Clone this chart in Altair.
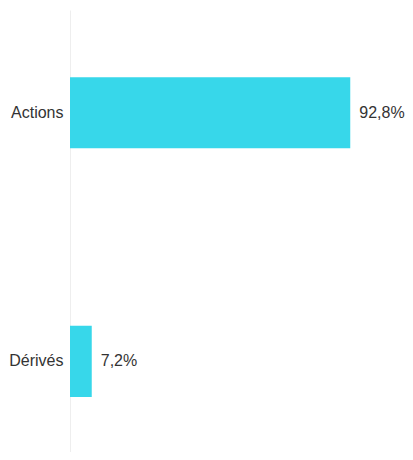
import altair as alt
import pandas as pd

categories = ["Actions", "Dérivés"]
values = [92.8, 7.2]

df = pd.DataFrame({"cat": categories, "val": values})
df["label"] = [f"{v:.1f}".replace(".", ",") + "%" for v in values]

base = alt.Chart(df).encode(
    y=alt.Y("cat:N", sort=categories, title=None,
            scale=alt.Scale(paddingInner=0.714, paddingOuter=0.246, align=0.55),
            axis=alt.Axis(domainColor="#eeeeee", domainWidth=1, ticks=False, grid=False,
                          labelFontSize=16, labelColor="#333333", labelPadding=7,
                          labelFont="Liberation Sans")),
    x=alt.X("val:Q", axis=None, scale=alt.Scale(domain=[0, 100])),
)

bars = base.mark_bar(color="#37d7ea")
text = base.mark_text(align="left", dx=9, fontSize=16, color="#333333",
                      font="Liberation Sans").encode(text="label:N")

chart = (bars + text).properties(
    width=302, height=442,
    autosize=alt.AutoSizeParams(type="none"),
    padding={"left": 62, "top": 2, "right": 33, "bottom": 0},
).configure_view(stroke=None)

chart.save("out.html", embed_options={"renderer": "svg", "actions": False})
